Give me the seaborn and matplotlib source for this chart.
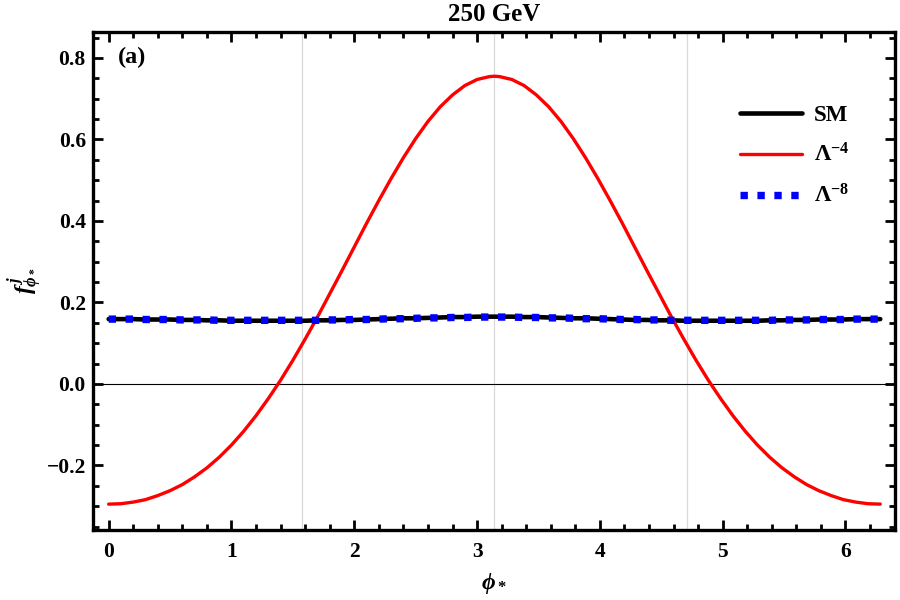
import numpy as np
import pandas as pd
import matplotlib
matplotlib.use("Agg")
import matplotlib.pyplot as plt
import seaborn as sns

# ---- data ----
# curves are symmetric about phi = pi; left half read, then mirrored
phi_left = [0.0, 0.1, 0.2, 0.3, 0.4, 0.5, 0.6, 0.7, 0.8, 0.9, 1.0, 1.1, 1.2, 1.3, 1.4, 1.5,
            1.6, 1.7, 1.8, 1.9, 2.0, 2.1, 2.2, 2.3, 2.4, 2.5, 2.6, 2.7, 2.8, 2.9, 3.0, 3.1]
phi_mid = 3.1416
phi_right = [3.1832, 3.2832, 3.3832, 3.4832, 3.5832, 3.6832, 3.7832, 3.8832, 3.9832, 4.0832,
             4.1832, 4.2832, 4.3832, 4.4832, 4.5832, 4.6832, 4.7832, 4.8832, 4.9832, 5.0832,
             5.1832, 5.2832, 5.3832, 5.4832, 5.5832, 5.6832, 5.7832, 5.8832, 5.9832, 6.0832,
             6.1832, 6.2832]

sm_left = [0.159, 0.159, 0.159, 0.158, 0.158, 0.158, 0.157, 0.157, 0.156, 0.156, 0.155,
           0.155, 0.155, 0.155, 0.155, 0.155, 0.155, 0.156, 0.156, 0.157, 0.157, 0.158,
           0.159, 0.160, 0.161, 0.161, 0.162, 0.163, 0.164, 0.164, 0.165, 0.165]
sm_mid = 0.165
l4_left = [-0.295, -0.294, -0.290, -0.284, -0.274, -0.262, -0.247, -0.228, -0.206, -0.180,
           -0.150, -0.116, -0.078, -0.036, 0.009, 0.058, 0.110, 0.164, 0.221, 0.278,
           0.336, 0.394, 0.450, 0.504, 0.555, 0.602, 0.644, 0.680, 0.709, 0.732,
           0.747, 0.754]
l4_mid = 0.755
l8_left = [0.159, 0.159, 0.159, 0.158, 0.158, 0.158, 0.157, 0.157, 0.157, 0.156, 0.156,
           0.156, 0.156, 0.156, 0.156, 0.156, 0.156, 0.156, 0.157, 0.157, 0.158, 0.158,
           0.159, 0.160, 0.160, 0.161, 0.162, 0.162, 0.163, 0.163, 0.164, 0.164]
l8_mid = 0.164

series_labels = ["SM", r"$\Lambda^{-4}$", r"$\Lambda^{-8}$"]
title = "250 GeV"
panel = "(a)"

phi = phi_left + [phi_mid] + phi_right
df = pd.DataFrame({
    "phi": phi,
    "SM": sm_left + [sm_mid] + sm_left[::-1],
    "L4": l4_left + [l4_mid] + l4_left[::-1],
    "L8": l8_left + [l8_mid] + l8_left[::-1],
})

sns.set_theme(style="ticks")
plt.rcParams["font.family"] = ["Liberation Serif", "DejaVu Serif"]
plt.rcParams["font.weight"] = "bold"
plt.rcParams["text.color"] = "black"
plt.rcParams["axes.labelcolor"] = "black"
plt.rcParams["mathtext.fontset"] = "custom"
plt.rcParams["mathtext.rm"] = "Liberation Serif:bold"
plt.rcParams["mathtext.it"] = "Liberation Serif:italic:bold"
plt.rcParams["mathtext.bf"] = "Liberation Serif:bold"

fig = plt.figure(figsize=(9, 6), dpi=100)
ax = fig.add_axes([0.103, 0.117, 0.891, 0.83])

for xv in [np.pi / 2, np.pi, 3 * np.pi / 2]:
    ax.axvline(xv, color="#d9d9d9", lw=0.9, zorder=0)
ax.axhline(0, color="black", lw=0.8, zorder=1)

sns.lineplot(data=df, x="phi", y="SM", ax=ax, color="black", lw=3.3,
             label=series_labels[0], zorder=2)
sns.lineplot(data=df, x="phi", y="L4", ax=ax, color="#ff0000", lw=2.4,
             label=series_labels[1], zorder=3)
sns.lineplot(data=df, x="phi", y="L8", ax=ax, color="#0000ff", lw=5.3,
             linestyle=(0, (1, 1.3)), dash_capstyle="butt",
             label=series_labels[2], zorder=4)

ax.set_xlim(-0.13, 6.40)
ax.set_ylim(-0.358, 0.864)
ax.set_xticks([0, 1, 2, 3, 4, 5, 6])
ax.set_yticks([-0.2, 0.0, 0.2, 0.4, 0.6, 0.8])
ax.set_xticks(np.arange(0, 6.41, 0.2), minor=True)
ax.set_yticks(np.arange(-0.35, 0.86, 0.05), minor=True)
ax.set_yticklabels(["\u22120.2", "0.0", "0.2", "0.4", "0.6", "0.8"])
ax.tick_params(which="both", direction="in", top=True, right=True, width=2.0,
               labelsize=15.5, colors="black")
ax.tick_params(axis="x", pad=9)
ax.tick_params(axis="y", pad=5)
ax.tick_params(which="major", length=7)
ax.tick_params(which="minor", length=4.5)
for lab in ax.get_xticklabels() + ax.get_yticklabels():
    lab.set_fontweight("bold")
for sp in ax.spines.values():
    sp.set_linewidth(2.4)
    sp.set_color("black")

ax.set_xlabel(r"$\phi_*$", fontsize=17, labelpad=6)
ax.set_ylabel(r"$f^{\,j}_{\phi_*}$", fontsize=17, labelpad=2)
ax.set_title(title, fontsize=18, fontweight="bold", pad=8)
ax.text(0.031, 0.948, panel, transform=ax.transAxes, fontsize=17.5,
        fontweight="bold", va="center", ha="left")

leg = ax.legend(loc="upper left", bbox_to_anchor=(0.782, 0.895), frameon=False,
                fontsize=16.5, handlelength=2.7, labelspacing=0.78, handletextpad=0.5)

fig.savefig("out.png", dpi=100)
